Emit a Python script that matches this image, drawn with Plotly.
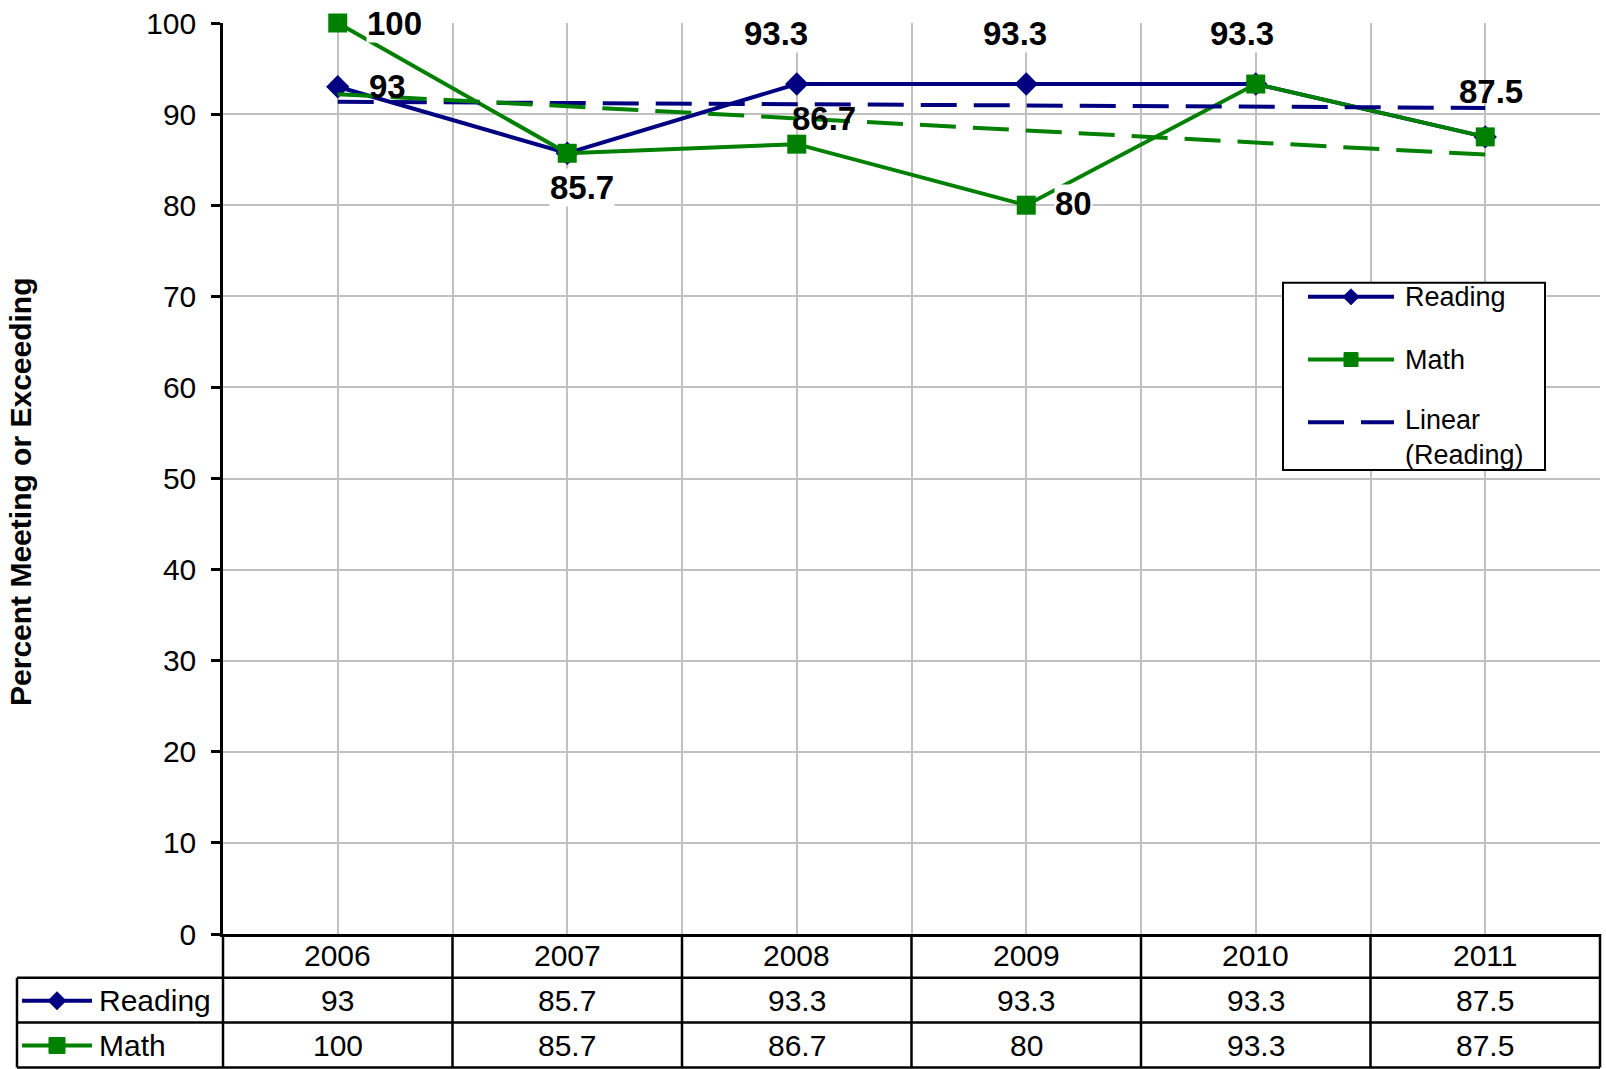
import numpy as np
import plotly.graph_objects as go

# ---------------- data ----------------
years = [2006, 2007, 2008, 2009, 2010, 2011]
reading = [93, 85.7, 93.3, 93.3, 93.3, 87.5]
math = [100, 85.7, 86.7, 80, 93.3, 87.5]
y_ticks = [0, 10, 20, 30, 40, 50, 60, 70, 80, 90, 100]
series_names = ["Reading", "Math"]
trend_name = "Linear (Reading)"
y_title = "Percent Meeting or Exceeding"

# data labels shown on the chart: (series, index)
label_points = [("Math", 0), ("Reading", 0), ("Math", 1), ("Reading", 2), ("Math", 2),
                ("Reading", 3), ("Math", 3), ("Reading", 4), ("Reading", 5)]
# label placement (pixel offsets from the point) and whether the label has a white box
label_dx = [57, 50, 15, -21, 27, -11, 47, -14, 6]
label_dy = [0, 0, 34, -51, -26, -51, -2, -51, -45]
label_box = [True, False, True, True, False, True, True, True, False]

# ---------------- geometry / style ----------------
W, H = 1606, 1069
L, R, T, B = 223, 1600, 19, 934
NAVY = "#000080"
GREEN = "#008000"
GRID = "#c0c0c0"
FONT = "Liberation Sans, Arial, sans-serif"


def px(x):
    return (x - L) / (R - L)


def py(y):
    return (B - y) / (B - T)


series = {"Reading": reading, "Math": math}
colors = {"Reading": NAVY, "Math": GREEN}

fig = go.Figure()
fig.add_trace(go.Scatter(x=years, y=reading, mode="lines+markers", name="Reading",
                         line=dict(color=NAVY, width=4),
                         marker=dict(symbol="diamond", size=18, color=NAVY),
                         showlegend=False, cliponaxis=False))
fig.add_trace(go.Scatter(x=years, y=math, mode="lines+markers", name="Math",
                         line=dict(color=GREEN, width=4),
                         marker=dict(symbol="square", size=19, color=GREEN),
                         showlegend=False, cliponaxis=False))

# linear trendlines (least squares fit of each series)
idx = np.arange(1, len(years) + 1)
for name in ["Reading", "Math"]:
    k, b = np.polyfit(idx, series[name], 1)
    fig.add_trace(go.Scatter(x=years, y=k * idx + b, mode="lines", name="Linear (%s)" % name,
                             line=dict(color=colors[name], width=4, dash="36px,17px"),
                             showlegend=False, hoverinfo="skip"))

annotations = []
shapes = []

# data labels
for (s, i), dx, dy, box in zip(label_points, label_dx, label_dy, label_box):
    v = series[s][i]
    annotations.append(dict(x=years[i], y=v, xref="x", yref="y", text=f"{v:g}",
                            showarrow=False, xshift=dx, yshift=-dy,
                            xanchor="center", yanchor="middle",
                            font=dict(family=FONT, size=33, color="black", weight="bold"),
                            bgcolor="white" if box else "rgba(0,0,0,0)", borderpad=0))

# y axis title
annotations.append(dict(x=px(21), y=py(490), xref="paper", yref="paper", text=y_title,
                        textangle=-90, showarrow=False, xanchor="center", yanchor="middle",
                        font=dict(family=FONT, size=30, color="black", weight="bold")))

# ---------------- data table ----------------
n = len(years)
col_w = (R - L) / n
row_y = [956, 1001, 1046]  # header, Reading, Math row centres (px)
line_kw = dict(color="black", width=2.5)
for k in range(n + 1):
    xx = px(L + k * col_w)
    shapes.append(dict(type="line", xref="paper", yref="paper", x0=xx, x1=xx,
                       y0=py(B), y1=py(1068), line=line_kw))
for yy in [978, 1023, 1068]:
    shapes.append(dict(type="line", xref="paper", yref="paper", x0=px(17), x1=px(R),
                       y0=py(yy), y1=py(yy), line=line_kw))
shapes.append(dict(type="line", xref="paper", yref="paper", x0=px(17), x1=px(17),
                   y0=py(978), y1=py(1068), line=line_kw))

for i, yr in enumerate(years):
    annotations.append(dict(x=px(L + (i + 0.5) * col_w), y=py(row_y[0]), xref="paper", yref="paper",
                            text=str(yr), showarrow=False, xanchor="center", yanchor="middle",
                            font=dict(family=FONT, size=30, color="black")))
    for r, s in enumerate(series_names):
        annotations.append(dict(x=px(L + (i + 0.5) * col_w), y=py(row_y[r + 1]), xref="paper",
                                yref="paper", text=f"{series[s][i]:g}", showarrow=False,
                                xanchor="center", yanchor="middle",
                                font=dict(family=FONT, size=30, color="black")))


def diamond(cx, cy, hw):
    return ("M %f %f L %f %f L %f %f L %f %f Z" %
            (px(cx), py(cy - hw), px(cx + hw), py(cy), px(cx), py(cy + hw), px(cx - hw), py(cy)))


def square(cx, cy, hw):
    return ("M %f %f L %f %f L %f %f L %f %f Z" %
            (px(cx - hw), py(cy - hw), px(cx + hw), py(cy - hw), px(cx + hw), py(cy + hw),
             px(cx - hw), py(cy + hw)))


def legend_key(x0, x1, cy, name, hw):
    shapes.append(dict(type="line", xref="paper", yref="paper", x0=px(x0), x1=px(x1),
                       y0=py(cy), y1=py(cy), line=dict(color=colors[name], width=4)))
    cx = (x0 + x1) / 2
    path = diamond(cx, cy, hw + 1) if name == "Reading" else square(cx, cy, hw)
    shapes.append(dict(type="path", xref="paper", yref="paper", path=path,
                       fillcolor=colors[name], line=dict(color=colors[name], width=1)))


for r, s in enumerate(series_names):
    legend_key(22, 92, row_y[r + 1], s, 8)
    annotations.append(dict(x=px(97), y=py(row_y[r + 1]), xref="paper", yref="paper", text=s,
                            showarrow=False, xanchor="left", yanchor="middle",
                            font=dict(family=FONT, size=30, color="black")))

# ---------------- legend box ----------------
shapes.append(dict(type="rect", xref="paper", yref="paper", x0=px(1283), x1=px(1545),
                   y0=py(280), y1=py(468), fillcolor="white", line=dict(color="black", width=2)))
leg_y = [294, 357]
for s, yy in zip(series_names, leg_y):
    legend_key(1308, 1394, yy, s, 7)
    annotations.append(dict(x=px(1403), y=py(yy), xref="paper", yref="paper", text=s,
                            showarrow=False, xanchor="left", yanchor="middle",
                            font=dict(family=FONT, size=27, color="black")))
shapes.append(dict(type="line", xref="paper", yref="paper", x0=px(1308), x1=px(1394),
                   y0=py(420), y1=py(420), line=dict(color=NAVY, width=4, dash="36px,17px")))
annotations.append(dict(x=px(1403), y=py(401), xref="paper", yref="paper",
                        text=trend_name.replace(" ", "<br>"), align="left",
                        showarrow=False, xanchor="left", yanchor="top",
                        font=dict(family=FONT, size=27, color="black")))

fig.update_layout(
    width=W, height=H,
    margin=dict(l=L, r=W - R, t=T, b=H - B),
    paper_bgcolor="white", plot_bgcolor="white",
    showlegend=False,
    shapes=shapes, annotations=annotations,
    xaxis=dict(range=[years[0] - 0.5, years[-1] + 0.5], tickmode="linear",
               tick0=years[0] - 0.5, dtick=0.5, showticklabels=False, ticks="",
               showgrid=True, gridcolor=GRID, gridwidth=2,
               showline=True, linecolor="black", linewidth=2.5, zeroline=False),
    yaxis=dict(range=[0, 100], tickmode="array", tickvals=y_ticks,
               ticktext=[str(t) for t in y_ticks],
               showgrid=True, gridcolor=GRID, gridwidth=2,
               ticks="outside", ticklen=9, tickwidth=2.5, tickcolor="black",
               ticklabelstandoff=9,
               showline=True, linecolor="black", linewidth=2.5, zeroline=False,
               tickfont=dict(family=FONT, size=30, color="black")),
)

# remove the default page margin so the figure sits at the window origin
fig.write_html("out.html", config={"displayModeBar": False},
               post_script="document.body.style.margin='0';document.body.style.overflow='hidden';")
